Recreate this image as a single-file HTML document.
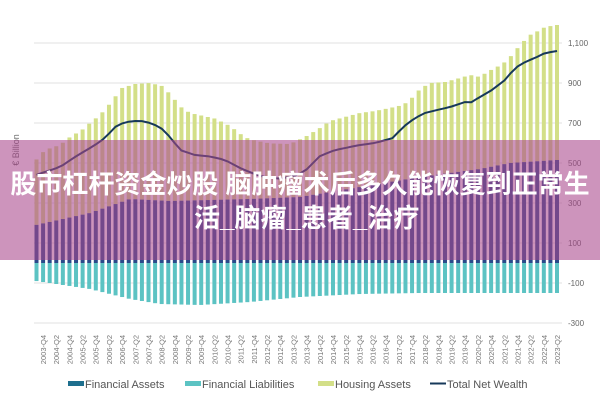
<!DOCTYPE html><html><head><meta charset="utf-8"><style>
body{margin:0;width:600px;height:400px;overflow:hidden;background:#fff;font-family:"Liberation Sans",sans-serif}
</style></head><body>
<svg id="s" width="600" height="400" xmlns="http://www.w3.org/2000/svg" style="position:absolute;left:0;top:0"></svg>
<div style="position:absolute;left:0;top:140px;width:600px;height:120px;background:rgba(168,70,140,0.58)"></div>
<div style="position:absolute;left:0;top:167px;width:600px;text-align:center;color:#fff;font:bold 26px 'Liberation Sans','Noto Sans CJK SC',sans-serif;line-height:34px;white-space:nowrap">股市杠杆资金炒股 脑肿瘤术后多久能恢复到正常生<br><span style="display:block;text-align:left;padding-left:194px">活_脑瘤_患者_治疗</span></div>
<script>
const s=document.getElementById('s');let h='';
const Y=v=>263-0.2*v;
function interp(k,t){if(t<=k[0][0])return k[0][1];for(let i=0;i<k.length-1;i++){if(t<=k[i+1][0]){const a=k[i],b=k[i+1];return a[1]+(b[1]-a[1])*(t-a[0])/(b[0]-a[0]);}}return k[k.length-1][1];}
const fa=[[36,190],[90,250],[130,320],[170,310],[250,320],[300,330],[360,380],[420,430],[480,470],[510,500],[557,515]];
const li=[[36,-90],[90,-130],[130,-180],[160,-205],[200,-210],[250,-195],[300,-170],[360,-155],[420,-150],[557,-150]];
const tops=[[36,515],[45,565],[60,590],[70,630],[82,665],[90,700],[100,740],[108,785],[115,830],[122,875],[135,895],[150,900],[162,885],[168,855],[175,815],[182,775],[190,750],[215,722],[230,685],[245,628],[255,612],[270,598],[290,595],[305,630],[320,675],[330,710],[345,730],[360,750],[375,760],[390,775],[403,790],[410,815],[420,870],[430,900],[445,905],[460,925],[470,940],[480,930],[487,955],[497,980],[505,1005],[512,1040],[520,1090],[530,1140],[540,1165],[545,1180],[557,1190]];
const net=[[36,440],[60,480],[75,530],[95,590],[105,625],[115,680],[125,705],[140,712],[150,700],[160,680],[170,630],[180,565],[195,540],[210,533],[225,515],[240,475],[252,450],[265,428],[280,422],[295,435],[305,460],[320,535],[335,565],[360,590],[375,600],[393,625],[403,680],[415,725],[425,750],[437,765],[450,780],[465,805],[470,800],[480,830],[492,865],[505,915],[515,975],[525,1005],[535,1025],[545,1050],[557,1060]];
[1100,900,700,500,300,100,-100,-300].forEach(v=>{h+=`<line x1="34" x2="562" y1="${Y(v)}" y2="${Y(v)}" stroke="#e2e2e2" stroke-width="1"/><text x="568" y="${Y(v)+3}" font-size="8" fill="#666">${v==1100?'1,100':v}</text>`});
const N=80,x0=36.5,dx=(557-36.5)/79;let pts=[];
for(let i=0;i<N;i++){const x=x0+i*dx;const f=interp(fa,x),l=interp(li,x),tp=interp(tops,x),n=interp(net,x);
h+=`<rect x="${x-2}" y="${Y(tp)}" width="4" height="${Y(f)-Y(tp)}" fill="#d3df88"/>`;
h+=`<rect x="${x-2}" y="${Y(f)}" width="4" height="${Y(0)-Y(f)}" fill="#2a4a8a"/>`;
h+=`<rect x="${x-2}" y="${Y(0)}" width="4" height="${Y(l)-Y(0)}" fill="#5cc3c3"/>`;
pts.push(x.toFixed(1)+','+Y(n).toFixed(1));}
h+=`<polyline points="${pts.join(' ')}" fill="none" stroke="#17395a" stroke-width="2"/>`;
for(let k=0;k<40;k++){const q=k%2==0?'Q4':'Q2';const yy=k%2==0?2003+k/2:2004+(k-1)/2;const x=43+k*(557-43)/39;
h+=`<text transform="translate(${x+3},335) rotate(-90)" text-anchor="end" font-size="7.5" fill="#777">${yy}-${q}</text>`;}
h+=`<text transform="translate(19,150) rotate(-90)" text-anchor="middle" font-size="9" fill="#666">€ Billion</text>`;
const lg=[[68,'#1e6f8e','Financial Assets','r'],[185,'#5cc3c3','Financial Liabilities','r'],[318,'#d3df88','Housing Assets','r'],[430,'#17395a','Total Net Wealth','l']];
lg.forEach(([x,c,t,k])=>{h+= k=='r'?`<rect x="${x}" y="381" width="16" height="5" fill="${c}"/>`:`<rect x="${x}" y="382.5" width="16" height="2" fill="${c}"/>`;h+=`<text x="${x+17}" y="388" font-size="11" fill="#555">${t}</text>`});
s.innerHTML=h;
</script>
</body></html>
